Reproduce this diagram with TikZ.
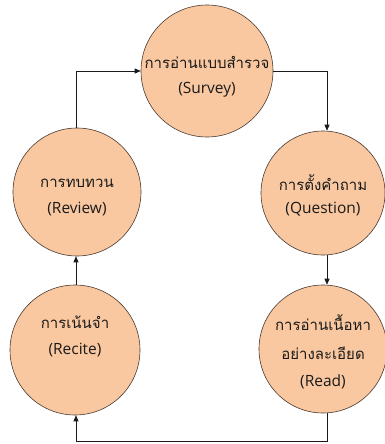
\documentclass[tikz,border=0pt]{standalone}
\usepackage{fontspec}
\usetikzlibrary{arrows.meta}
\newfontfamily\thaifont[Script=Thai]{Loma}
\newfontfamily\latfont{Open Sans}
\definecolor{peach}{HTML}{F9C8A0}
\definecolor{rim}{HTML}{4A3A30}
\definecolor{ink}{HTML}{1A1A1A}
\tikzset{
  stage/.style={circle, draw=rim, line width=0.6pt, fill=peach, inner sep=0pt, minimum size=#1},
  th/.style={font=\thaifont\fontsize{15}{17}\selectfont, text=ink, inner sep=0pt},
  en/.style={font=\latfont\fontsize{15.5}{17}\selectfont, text=ink, inner sep=0pt},
  flow/.style={draw=ink, line width=0.7pt, -{Triangle[length=6pt,width=5pt]}},
}
\begin{document}
\begin{tikzpicture}[x=1pt,y=-1pt]
\useasboundingbox (0,0) rectangle (384,444);
\node[stage=132pt] (survey) at (207,71) {};
\node[stage=128pt] (review) at (77,192) {};
\node[stage=124pt] (question) at (323,193) {};
\node[stage=130pt] (recite) at (75,350) {};
\node[stage=128pt] (read) at (323,349) {};

\node[th] (s1) at (207,62) {การอ่านแบบสำรวจ};
\node[en] (s2) at (207,90) {(Survey)};
\node[th] (v1) at (77,183) {การทบทวน};
\node[en] (v2) at (77,209) {(Review)};
\node[th] (q1) at (323,183) {การตั้งคำถาม};
\node[en] (q2) at (323,209) {(Question)};
\node[th] (c1) at (75,322) {การเน้นจำ};
\node[en] (c2) at (75,350) {(Recite)};
\node[th] (r1) at (323,323) {การอ่านเนื้อหา};
\node[th] (r2) at (323,353) {อย่างละเอียด};
\node[en] (r3) at (323,382) {(Read)};

\coordinate (a1) at (76,71);
\coordinate (a2) at (327,71);
\coordinate (b1) at (327,441);
\coordinate (b2) at (76,441);

\draw[flow] (review.north -| a1) -- (a1) -- (survey.west);
\draw[flow] (survey.east) -- (a2) -- (question.north -| a2);
\draw[flow] (question.south -| a2) -- (read.north -| a2);
\draw[flow] (read.south -| b1) -- (b1) -- (b2) -- (recite.south -| b2);
\draw[flow] (recite.north -| b2) -- (review.south -| b2);
\end{tikzpicture}
\end{document}
